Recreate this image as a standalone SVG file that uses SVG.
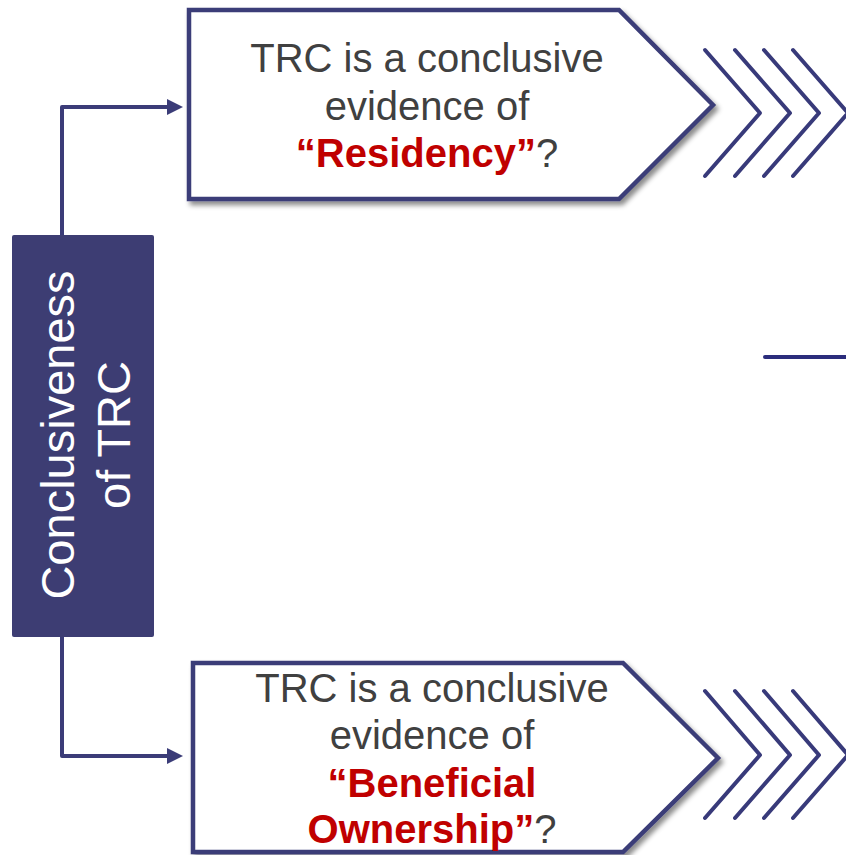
<svg xmlns="http://www.w3.org/2000/svg" width="846" height="855" viewBox="0 0 846 855">
  <style>
    .box { fill: #ffffff; stroke: #3b3c78; stroke-width: 4.5; stroke-linejoin: miter; }
    .chev { fill: none; stroke: #383a7a; stroke-width: 4; stroke-linecap: round; stroke-linejoin: round; }
    .conn { fill: none; stroke: #3b3c78; stroke-width: 4; stroke-linejoin: round; }
    .q { font-family: "Liberation Sans", Arial, sans-serif; font-size: 40px; fill: #404040; text-anchor: middle; }
    .hl { fill: #c00000; font-weight: bold; }
    .side { font-family: "Liberation Sans", Arial, sans-serif; font-size: 47px; fill: #ffffff; text-anchor: middle; }
  </style>
  <defs>
    <filter id="shadow" x="-10%" y="-10%" width="125%" height="130%">
      <feDropShadow dx="3" dy="4" stdDeviation="2.5" flood-color="#000000" flood-opacity="0.45"/>
    </filter>
    <marker id="arrow" markerWidth="16" markerHeight="16" refX="0" refY="8" orient="auto" markerUnits="userSpaceOnUse">
      <path d="M0,0 L16,8 L0,16 Z" fill="#3b3c78"/>
    </marker>
  </defs>

  <rect width="846" height="855" fill="#ffffff"/>

  <!-- connectors from the side label to both questions -->
  <g id="connectors">
    <path class="conn" d="M62,237 V107 H167" marker-end="url(#arrow)"/>
    <path class="conn" d="M62,635 V756 H167" marker-end="url(#arrow)"/>
    <line x1="765" y1="357" x2="846" y2="357" stroke="#2b2d7c" stroke-width="4" stroke-linecap="round"/>
  </g>

  <!-- side label -->
  <g id="side-label">
    <rect x="12" y="235" width="142" height="402" rx="2" fill="#3d3d73"/>
    <text class="side" transform="translate(74,435) rotate(-90)">Conclusiveness</text>
    <text class="side" transform="translate(130,435) rotate(-90)">of TRC</text>
  </g>

  <!-- upper question -->
  <g id="residency">
    <polygon class="box" filter="url(#shadow)" points="189,10 619,10 713,105 619,199 189,199"/>
    <text class="q" x="427" y="72">TRC is a conclusive</text>
    <text class="q" x="427" y="119.5">evidence of</text>
    <text class="q" x="427" y="167"><tspan class="hl">“Residency”</tspan>?</text>
  </g>
  <g id="residency-chevrons">
    <polyline class="chev" points="705,50 760,113 705,176"/>
    <polyline class="chev" points="735,50 790,113 735,176"/>
    <polyline class="chev" points="764,50 819,113 764,176"/>
    <polyline class="chev" points="793,50 848,113 793,176"/>
  </g>

  <!-- lower question -->
  <g id="beneficial-ownership">
    <polygon class="box" filter="url(#shadow)" points="193,663 623,663 718,758 623,852 193,852"/>
    <text class="q" x="432" y="702">TRC is a conclusive</text>
    <text class="q" x="432" y="749">evidence of</text>
    <text class="q" x="432" y="797"><tspan class="hl">“Beneficial</tspan></text>
    <text class="q" x="432" y="843"><tspan class="hl">Ownership”</tspan>?</text>
  </g>
  <g id="beneficial-ownership-chevrons">
    <polyline class="chev" points="705,691 760,755 705,818"/>
    <polyline class="chev" points="735,691 790,755 735,818"/>
    <polyline class="chev" points="764,691 819,755 764,818"/>
    <polyline class="chev" points="793,691 848,755 793,818"/>
  </g>
</svg>
